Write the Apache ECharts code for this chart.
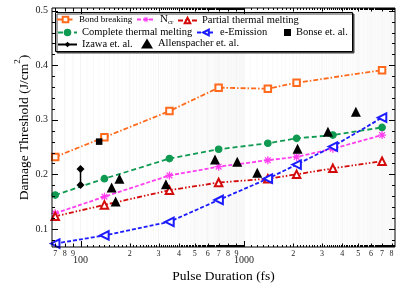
<!DOCTYPE html>
<html><head><meta charset="utf-8">
<script src="https://cdn.jsdelivr.net/npm/echarts@6/dist/echarts.min.js"></script>
<style>html,body{margin:0;padding:0;background:#fff}#c{width:415px;height:288px}</style>
</head><body><div id="c"></div>
<script>
// ---- data ----
const simX = [70, 140, 350, 700, 1400, 2100, 3500, 7000];
const bondX = [70, 140, 350, 700, 1400, 2100, 7000];
const bondY = [0.232, 0.268, 0.316, 0.359, 0.357, 0.368, 0.391];
const completeY = [0.162, 0.192, 0.229, 0.246, 0.257, 0.266, 0.272, 0.286];
const ncrY = [0.1285, 0.159, 0.198, 0.214, 0.226, 0.232, 0.247, 0.272];
const partialY = [0.123, 0.144, 0.171, 0.185, 0.192, 0.200, 0.211, 0.224];
const emissionY = [0.073, 0.088, 0.113, 0.153, 0.192, 0.218, 0.251, 0.304];
const izawaX = [100, 100];
const izawaY = [0.21, 0.1805];
const bonseX = [130];
const bonseY = [0.26];
const allenX = [155, 164, 173, 333, 665, 910, 1206, 2128, 3265, 4842];
const allenY = [0.176, 0.150, 0.192, 0.182, 0.227, 0.223, 0.203, 0.247, 0.278, 0.315];

// ---- axis ticks ----
const X_MIN = 66.9, X_MAX = 8400;
const Y_MIN = 0.0668, Y_MAX = 0.505;
const xMajorTicks = [100, 1000];
const xMajorLabels = ['100', '1000'];
const xMinorTicks = [70, 80, 90, 200, 300, 400, 500, 600, 700, 800, 900, 2000, 3000, 4000, 5000, 6000, 7000, 8000];
const xMinorLabels = ['7', '8', '9', '2', '3', '4', '5', '6', '7', '8', '9', '2', '3', '4', '5', '6', '7', '8'];
const yMajorTicks = [0.1, 0.2, 0.3, 0.4, 0.5];
const yMajorLabels = ['0.1', '0.2', '0.3', '0.4', '0.5'];
const yMinorStep = 0.02;

const FONT = '"Liberation Serif", "DejaVu Serif", serif';

const xTickList = [];
xMajorTicks.forEach((v, i) => xTickList.push({v, kind: 0, label: xMajorLabels[i]}));
xMinorTicks.forEach((v, i) => xTickList.push({v, kind: 1, label: xMinorLabels[i]}));
[100, 1000].forEach(dec => {
  for (let m = 1; m < 10; m++) for (let k = 1; k < 10; k++) {
    const v = dec * (m + k / 10);
    if (v < X_MAX) xTickList.push({v, kind: 2, label: null});
  }
});
const yTickList = [];
yMajorTicks.forEach((v, i) => yTickList.push({v, kind: 0, label: yMajorLabels[i]}));
for (let v = 0.08; v < Y_MAX; v += yMinorStep) {
  const r = Math.round(v * 1000) / 1000;
  if (Math.abs(r * 10 - Math.round(r * 10)) > 1e-6) yTickList.push({v: r, kind: 1, label: null});
}

function pair(xs, ys) { return xs.map((x, i) => [x, ys[i]]); }

function asteriskPath() {
  const L = 5, w = 0.8; let d = '';
  [0, 45, 90, 135].forEach(a => {
    const r = a * Math.PI / 180, c = Math.cos(r), s = Math.sin(r);
    const pts = [[-L, -w], [L, -w], [L, w], [-L, w]].map(([x, y]) => [x * c - y * s, x * s + y * c]);
    d += 'M' + pts.map(p => p[0].toFixed(2) + ',' + p[1].toFixed(2)).join('L') + 'Z';
  });
  return 'path://' + d;
}

const C = {bond: '#ff6a1c', ncr: '#ff3ff0', partial: '#d40b0b', complete: '#0f9a52', emission: '#1c1cff'};

const chart = echarts.init(document.getElementById('c'), null, {renderer: 'canvas'});

function lineSeries(name, xs, ys, color, dash, symbol, size, extra) {
  return Object.assign({
    name, type: 'line', data: pair(xs, ys), z: 3,
    lineStyle: {color, width: 1.8, type: dash},
    itemStyle: {color, borderColor: color, borderWidth: 1.2},
    symbol, symbolSize: size, showSymbol: true, emphasis: {disabled: true}
  }, extra || {});
}

function legendItem(name, left, top, w, h, fs) {
  return {
    data: [name], left, top, itemWidth: w, itemHeight: h, padding: 0, z: 6,
    selectedMode: false,
    textStyle: {fontFamily: FONT, fontSize: fs, color: '#000',
      rich: {n: {fontFamily: FONT, fontSize: 11, color: '#000'},
             s: {fontFamily: FONT, fontSize: 7, color: '#000', padding: [6, 0, 0, 0]}}},
    formatter: nm => nm === 'N_cr' ? '{n|N}{s|cr}' : nm
  };
}

const option = {
  animation: false,
  grid: {left: 52, right: 20, top: 8, bottom: 38, show: true, borderColor: '#000', borderWidth: 1, z: 5},
  xAxis: {
    type: 'log', logBase: 10, min: X_MIN, max: X_MAX,
    axisLine: {show: false}, axisTick: {show: false}, axisLabel: {show: false},
    splitLine: {show: false}, minorTick: {show: false},
    name: 'Pulse Duration (fs)', nameLocation: 'middle', nameGap: 22,
    nameTextStyle: {fontFamily: FONT, fontSize: 13.5, color: '#000'}
  },
  yAxis: {
    type: 'value', min: Y_MIN, max: Y_MAX,
    axisLine: {show: false}, axisTick: {show: false}, axisLabel: {show: false}, splitLine: {show: false},
    name: '{a|Damage Threshold (J/cm}{s|2}{a|)}', nameLocation: 'middle', nameGap: 21,
    nameTextStyle: {rich: {
      a: {fontFamily: FONT, fontSize: 13.5, color: '#000', lineHeight: 18, verticalAlign: 'bottom'},
      s: {fontFamily: FONT, fontSize: 9, color: '#000', lineHeight: 18, verticalAlign: 'top'}
    }}
  },
  legend: [
    legendItem('Bond breaking', 56, 15, 17, 7, 9),
    legendItem('N_cr', 136, 14, 18, 7, 11),
    legendItem('Partial thermal melting', 177, 15, 19, 7, 10.5),
    legendItem('Complete thermal melting', 57, 27, 19, 7, 10.5),
    legendItem('e-Emission', 196, 27, 18, 7, 10.5),
    legendItem('Bonse et. al.', 284, 27, 7, 7, 10.5),
    legendItem('Izawa et. al.', 57, 39, 19, 7, 10.5),
    legendItem('Allenspacher et. al.', 141, 38, 12, 10, 10.5)
  ],
  graphic: [{
    type: 'rect', shape: {x: 55.5, y: 12.5, width: 297, height: 39}, z: 4,
    style: {fill: '#fff', stroke: '#000', lineWidth: 1, shadowColor: '#444', shadowOffsetX: 1.5, shadowOffsetY: 1.5, shadowBlur: 0}
  }],
  series: [
    {
      type: 'custom', name: 'xgrid', silent: true, z: 1,
      data: xTickList.map(t => [t.v, Y_MIN]),
      renderItem: (params, api) => {
        const t = xTickList[params.dataIndex];
        const b = api.coord([t.v, Y_MIN]), tp = api.coord([t.v, Y_MAX]);
        return {type: 'line', shape: {x1: b[0], y1: b[1], x2: b[0], y2: tp[1]},
          style: {stroke: t.kind === 2 ? '#f3f3f3' : '#e6e6e6', lineWidth: 0.5}};
      }
    },
    lineSeries('Bond breaking', bondX, bondY, C.bond, [5, 2, 1.5, 2], 'emptyRect', 6.5),
    lineSeries('Complete thermal melting', simX, completeY, C.complete, [5, 3], 'circle', 6.5),
    lineSeries('N_cr', simX, ncrY, C.ncr, [4, 2], asteriskPath(), 8, {itemStyle: {color: C.ncr, borderWidth: 0}}),
    lineSeries('Partial thermal melting', simX, partialY, C.partial, [5, 2, 1.5, 2, 1.5, 2], 'emptyTriangle', 7.5),
    lineSeries('e-Emission', simX, emissionY, C.emission, [4, 2], 'emptyTriangle', 8.5, {symbolRotate: 90}),
    {
      name: 'Izawa et. al.', type: 'line', data: pair(izawaX, izawaY), z: 4,
      lineStyle: {color: '#000', width: 1.5}, itemStyle: {color: '#000'},
      symbol: 'diamond', symbolSize: 8, emphasis: {disabled: true}
    },
    {
      name: 'Allenspacher et. al.', type: 'scatter', data: pair(allenX, allenY), z: 4,
      itemStyle: {color: '#000', opacity: 1}, symbol: 'triangle', symbolSize: 10, emphasis: {disabled: true}
    },
    {
      name: 'Bonse et. al.', type: 'scatter', data: pair(bonseX, bonseY), z: 4,
      itemStyle: {color: '#000', opacity: 1}, symbol: 'rect', symbolSize: 6.5, emphasis: {disabled: true}
    },
    {
      type: 'custom', name: 'xticks', silent: true, z: 6,
      data: xTickList.map(t => [t.v, Y_MIN]),
      renderItem: (params, api) => {
        const t = xTickList[params.dataIndex];
        const b = api.coord([t.v, Y_MIN]), tp = api.coord([t.v, Y_MAX]);
        const x = Math.round(b[0]) + 0.5;
        const len = t.kind === 0 ? 6 : (t.kind === 1 ? 3.5 : 2);
        const ch = [
          {type: 'line', shape: {x1: x, y1: b[1], x2: x, y2: b[1] - len}, style: {stroke: '#000', lineWidth: 1}},
          {type: 'line', shape: {x1: x, y1: tp[1], x2: x, y2: tp[1] + len}, style: {stroke: '#000', lineWidth: 1}}
        ];
        if (t.label) {
          ch.push({type: 'text', x: b[0], y: b[1] + (t.kind === 0 ? 8 : 2.5),
            style: {text: t.label, fill: '#222', font: (t.kind === 0 ? '10px ' : '8px ') + FONT, align: 'center', verticalAlign: 'top'}});
        }
        return {type: 'group', children: ch};
      }
    },
    {
      type: 'custom', name: 'yticks', silent: true, z: 6,
      data: yTickList.map(t => [X_MIN, t.v]),
      renderItem: (params, api) => {
        const t = yTickList[params.dataIndex];
        const l = api.coord([X_MIN, t.v]), r = api.coord([X_MAX, t.v]);
        const y = Math.round(l[1]) + 0.5;
        const len = t.kind === 0 ? 6 : 3;
        const ch = [
          {type: 'line', shape: {x1: l[0], y1: y, x2: l[0] + len, y2: y}, style: {stroke: '#000', lineWidth: 1}},
          {type: 'line', shape: {x1: r[0], y1: y, x2: r[0] - len, y2: y}, style: {stroke: '#000', lineWidth: 1}}
        ];
        if (t.label) {
          ch.push({type: 'text', x: l[0] - 4, y: l[1],
            style: {text: t.label, fill: '#222', font: '10px ' + FONT, align: 'right', verticalAlign: 'middle'}});
        }
        return {type: 'group', children: ch};
      }
    }
  ]
};
chart.setOption(option);
</script></body></html>
